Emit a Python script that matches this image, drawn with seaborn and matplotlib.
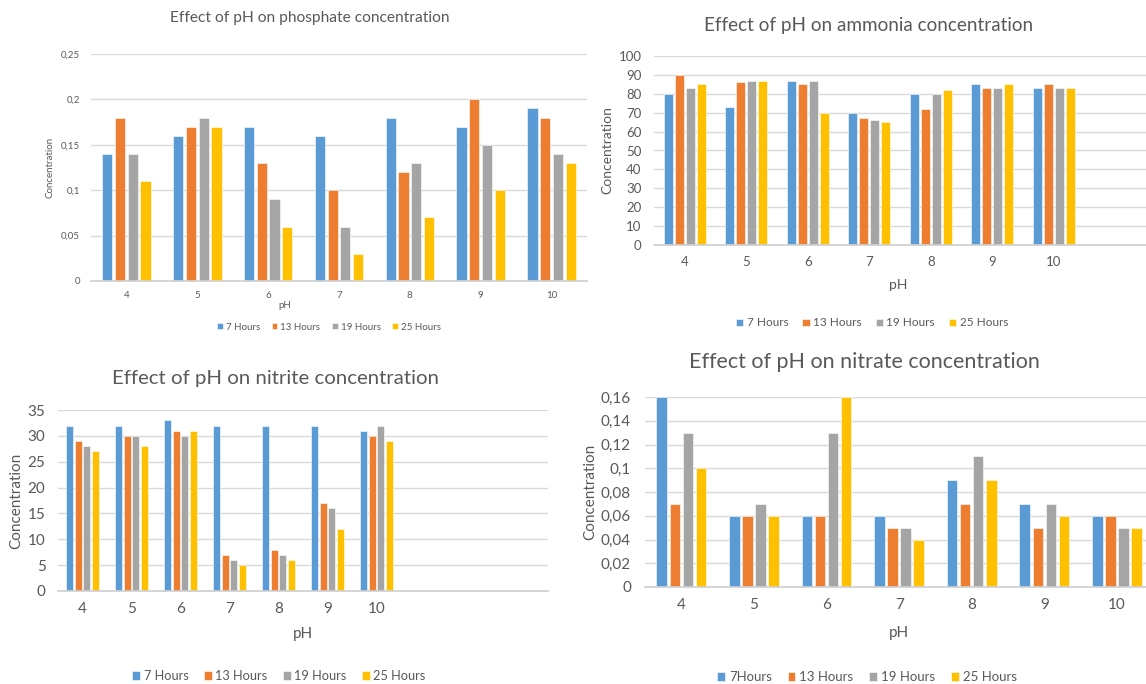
import numpy as np
import pandas as pd
import matplotlib
matplotlib.use("Agg")
import matplotlib.pyplot as plt
import seaborn as sns
from matplotlib.ticker import FuncFormatter, MultipleLocator

W, H = 1146, 684

PH = ["4", "5", "6", "7", "8", "9", "10"]
HOURS = ["7 Hours", "13 Hours", "19 Hours", "25 Hours"]
HOURS_NITRATE = ["7Hours", "13 Hours", "19 Hours", "25 Hours"]

# values per sampling time, pH 4..10
PHOSPHATE_7H = [0.14, 0.16, 0.17, 0.16, 0.18, 0.17, 0.19]
PHOSPHATE_13H = [0.18, 0.17, 0.13, 0.10, 0.12, 0.20, 0.18]
PHOSPHATE_19H = [0.14, 0.18, 0.09, 0.06, 0.13, 0.15, 0.14]
PHOSPHATE_25H = [0.11, 0.17, 0.06, 0.03, 0.07, 0.10, 0.13]

AMMONIA_7H = [80, 73, 87, 70, 80, 85, 83]
AMMONIA_13H = [90, 86, 85, 67, 72, 83, 85]
AMMONIA_19H = [83, 87, 87, 66, 80, 83, 83]
AMMONIA_25H = [85, 87, 70, 65, 82, 85, 83]

NITRITE_7H = [32, 32, 33, 32, 32, 32, 31]
NITRITE_13H = [29, 30, 31, 7, 8, 17, 30]
NITRITE_19H = [28, 30, 30, 6, 7, 16, 32]
NITRITE_25H = [27, 28, 31, 5, 6, 12, 29]

NITRATE_7H = [0.16, 0.06, 0.06, 0.06, 0.09, 0.07, 0.06]
NITRATE_13H = [0.07, 0.06, 0.06, 0.05, 0.07, 0.05, 0.06]
NITRATE_19H = [0.13, 0.07, 0.13, 0.05, 0.11, 0.07, 0.05]
NITRATE_25H = [0.10, 0.06, 0.16, 0.04, 0.09, 0.06, 0.05]

COLORS = ["#5B9BD5", "#ED7D31", "#A5A5A5", "#FFC000"]
TEXT = "#595959"
GRID = "#D9D9D9"


def to_frame(series, labels):
    rows = []
    for label, values in zip(labels, series):
        for ph, v in zip(PH, values):
            rows.append({"pH": ph, "hours": label, "value": v})
    return pd.DataFrame(rows)


def comma(v, _):
    return f"{round(v, 4):g}".replace(".", ",")


def draw_panel(fig, df, p):
    left, top, right, bottom = p["box"]
    ax = fig.add_axes([left / W, 1 - bottom / H, (right - left) / W, (bottom - top) / H])
    sns.barplot(data=df, x="pH", y="value", hue="hours", palette=COLORS,
                saturation=1, width=0.72, gap=0.2, errorbar=None, ax=ax,
                edgecolor="white", linewidth=0.4)
    ax.set_xlim(-0.5, p["xmax"])
    ax.set_ylim(0, p["ymax"])
    ax.yaxis.set_major_locator(MultipleLocator(p["ystep"]))
    ax.yaxis.set_major_formatter(FuncFormatter(comma))
    ax.yaxis.grid(True, color=GRID, linewidth=1)
    ax.set_axisbelow(True)
    for side in ["top", "right", "left"]:
        ax.spines[side].set_visible(False)
    ax.spines["bottom"].set_color("#D0D0D0")
    ax.tick_params(axis="both", length=0, labelsize=p["tick"], colors=TEXT)
    ax.tick_params(axis="x", pad=p["xpad"])
    ax.tick_params(axis="y", pad=p["ypad"])

    ax.set_xlabel("pH", fontsize=p["label"], color=TEXT)
    ax.xaxis.label.set_va("center")
    ax.xaxis.set_label_coords(*p["xlab"])
    ax.set_ylabel("Concentration", fontsize=p["label"], color=TEXT)
    ax.yaxis.label.set_va("center")
    ax.yaxis.set_label_coords(*p["ylab"])

    fig.text(p["title_xy"][0] / W, 1 - p["title_xy"][1] / H, p["title"],
             ha="center", va="center", fontsize=p["title_size"], color=TEXT)

    handles, labels = ax.get_legend_handles_labels()
    ax.legend(handles, labels, loc="center",
              bbox_to_anchor=(p["leg_xy"][0] / W, 1 - p["leg_xy"][1] / H),
              bbox_transform=fig.transFigure, ncol=4, frameon=False,
              handlelength=0.6, handleheight=0.6, handletextpad=0.3,
              columnspacing=1.2, fontsize=p["leg_size"], labelcolor=TEXT,
              borderaxespad=0)
    return ax


def main():
    sns.set_theme(style="white")
    plt.rcParams["font.family"] = ["Lato", "DejaVu Sans"]
    fig = plt.figure(figsize=(W / 100, H / 100), dpi=100)

    phosphate = to_frame([PHOSPHATE_7H, PHOSPHATE_13H, PHOSPHATE_19H, PHOSPHATE_25H], HOURS)
    ammonia = to_frame([AMMONIA_7H, AMMONIA_13H, AMMONIA_19H, AMMONIA_25H], HOURS)
    nitrite = to_frame([NITRITE_7H, NITRITE_13H, NITRITE_19H, NITRITE_25H], HOURS)
    nitrate = to_frame([NITRATE_7H, NITRATE_13H, NITRATE_19H, NITRATE_25H], HOURS_NITRATE)

    draw_panel(fig, phosphate, dict(
        box=(91, 54, 587, 281), xmax=6.5, ymax=0.25, ystep=0.05,
        tick=7, xpad=7, ypad=8, label=7, xlab=(0.391, -0.106), ylab=(-0.083, 0.5),
        title="Effect of pH on phosphate concentration", title_xy=(310, 18),
        title_size=11.2, leg_xy=(329, 327), leg_size=7))
    draw_panel(fig, ammonia, dict(
        box=(654, 56, 1146, 245), xmax=7.5, ymax=100, ystep=10,
        tick=9.5, xpad=8, ypad=9, label=10, xlab=(0.496, -0.212), ylab=(-0.094, 0.5),
        title="Effect of pH on ammonia concentration", title_xy=(869, 26),
        title_size=13.6, leg_xy=(872, 323), leg_size=8.5))
    draw_panel(fig, nitrite, dict(
        box=(58, 410, 548, 591), xmax=9.5, ymax=35, ystep=5,
        tick=11, xpad=8, ypad=9, label=11, xlab=(0.5, -0.238), ylab=(-0.086, 0.5),
        title="Effect of pH on nitrite concentration", title_xy=(276, 378),
        title_size=14.7, leg_xy=(279, 676), leg_size=9.2))
    draw_panel(fig, nitrate, dict(
        box=(645, 397, 1146, 587), xmax=-0.5 + 501 / 72.6, ymax=0.16, ystep=0.02,
        tick=11, xpad=8, ypad=10, label=11, xlab=(0.507, -0.242), ylab=(-0.11, 0.5),
        title="Effect of pH on nitrate concentration", title_xy=(864, 362),
        title_size=15.5, leg_xy=(867, 677), leg_size=9.5))

    fig.savefig("out.png", dpi=100, facecolor="white")


if __name__ == "__main__":
    main()
